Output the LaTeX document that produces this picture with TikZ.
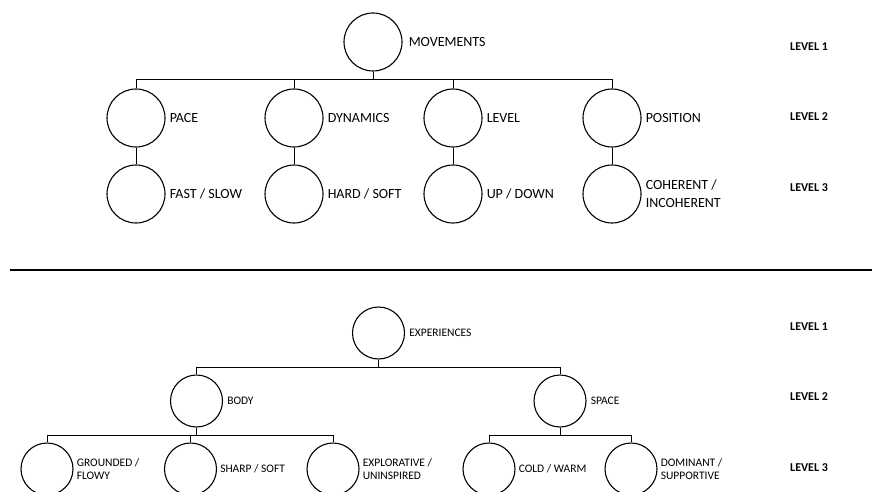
\documentclass[tikz,border=0pt]{standalone}
\usepackage{fontspec}
\setmainfont{Carlito}
\usetikzlibrary{positioning}

\begin{document}
\begin{tikzpicture}[x=1pt,y=-1pt,
  blob/.style={draw,circle,line width=1.1pt,minimum size=58pt,inner sep=0pt},
  smallblob/.style={blob,minimum size=52pt},
  tag/.style={inner sep=0pt,align=left,font=\fontsize{14}{18}\selectfont},
  smalltag/.style={tag,font=\fontsize{11.5}{12.5}\selectfont},
  lvl/.style={anchor=west,inner sep=0pt,font=\bfseries\fontsize{12}{14}\selectfont},
  link/.style={line width=1pt},
  bus/.style={line width=1.6pt}]
\useasboundingbox (0,0) rectangle (872,492);
% Upper tree: movements
\node[blob] (mov) at (373,42) {};
\node[tag,right=6pt of mov] (movt) {MOVEMENTS};
\node[blob] (pace) at (136,118) {};
\node[blob] (dyn) at (294,118) {};
\node[blob] (lev) at (453,118) {};
\node[blob] (pos) at (612,118) {};
\node[tag,right=4pt of pace] (pacet) {PACE};
\node[tag,right=4pt of dyn] (dynt) {DYNAMICS};
\node[tag,right=4pt of lev] (levt) {LEVEL};
\node[tag,right=4pt of pos] (post) {POSITION};
\node[blob] (fast) at (136,194) {};
\node[blob] (hard) at (294,194) {};
\node[blob] (updown) at (453,194) {};
\node[blob] (coh) at (612,194) {};
\node[tag,right=4pt of fast] (fastt) {FAST / SLOW};
\node[tag,right=4pt of hard] (hardt) {HARD / SOFT};
\node[tag,right=4pt of updown] (updownt) {UP / DOWN};
\node[tag,right=4pt of coh] (coht) {COHERENT /\\INCOHERENT};
\coordinate (busA) at (373,79.5);
\draw[link] (mov) -- (busA);
\draw[bus] (pace.north |- busA) -- (pos.north |- busA);
\draw[link] (pace.north |- busA) -- (pace);
\draw[link] (dyn.north |- busA) -- (dyn);
\draw[link] (lev.north |- busA) -- (lev);
\draw[link] (pos.north |- busA) -- (pos);
\draw[link] (pace) -- (fast);
\draw[link] (dyn) -- (hard);
\draw[link] (lev) -- (updown);
\draw[link] (pos) -- (coh);
\node[lvl] (upA) at (790,47) {LEVEL 1};
\node[lvl] (upB) at (790,117) {LEVEL 2};
\node[lvl] (upC) at (790,188) {LEVEL 3};
% separator
\coordinate (sepL) at (10,270);
\coordinate (sepR) at (872,270);
\draw[line width=2pt] (sepL) -- (sepR);
% Lower tree: experiences
\node[smallblob] (exp) at (378.5,333) {};
\node[smalltag,right=4pt of exp] (expt) {EXPERIENCES};
\node[smallblob] (body) at (196.5,401) {};
\node[smallblob] (space) at (560,401) {};
\node[smalltag,right=4pt of body] (bodyt) {BODY};
\node[smalltag,right=4pt of space] (spacet) {SPACE};
\node[smallblob] (grd) at (47,469) {};
\node[smallblob] (shp) at (190.5,469) {};
\node[smallblob] (expl) at (333,469) {};
\node[smallblob] (cold) at (489,469) {};
\node[smallblob] (dom) at (631,469) {};
\node[smalltag,right=3pt of grd] (grdt) {GROUNDED /\\FLOWY};
\node[smalltag,right=3pt of shp] (shpt) {SHARP / SOFT};
\node[smalltag,right=3pt of expl] (explt) {EXPLORATIVE /\\UNINSPIRED};
\node[smalltag,right=3pt of cold] (coldt) {COLD / WARM};
\node[smalltag,right=3pt of dom] (domt) {DOMINANT /\\SUPPORTIVE};
\coordinate (busB) at (378.5,367);
\draw[link] (exp) -- (busB);
\draw[link] (body.north |- busB) -- (space.north |- busB);
\draw[link] (body.north |- busB) -- (body);
\draw[link] (space.north |- busB) -- (space);
\coordinate (busC) at (196.5,435);
\coordinate (busD) at (560,435);
\draw[link] (body) -- (busC);
\draw[link] (space) -- (busD);
\draw[link] (grd.north |- busC) -- (expl.north |- busC);
\draw[link] (cold.north |- busD) -- (dom.north |- busD);
\draw[link] (grd.north |- busC) -- (grd);
\draw[link] (shp.north |- busC) -- (shp);
\draw[link] (expl.north |- busC) -- (expl);
\draw[link] (cold.north |- busD) -- (cold);
\draw[link] (dom.north |- busD) -- (dom);
\node[lvl] (loA) at (790,327) {LEVEL 1};
\node[lvl] (loB) at (790,397) {LEVEL 2};
\node[lvl] (loC) at (790,468) {LEVEL 3};
\end{tikzpicture}
\end{document}
